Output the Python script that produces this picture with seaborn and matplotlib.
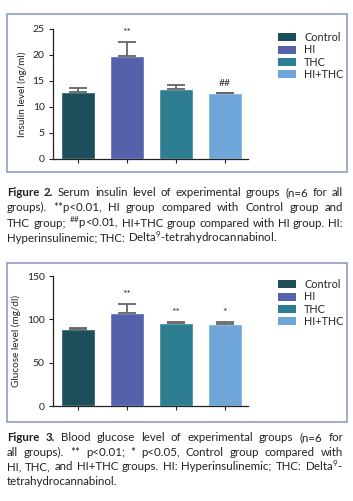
import numpy as np
import pandas as pd
import seaborn as sns
import matplotlib.pyplot as plt
from matplotlib.patches import Rectangle, Patch

sns.set_style('ticks')
plt.rcParams['font.family'] = ['Lato', 'DejaVu Sans']
plt.rcParams['mathtext.fontset'] = 'custom'
plt.rcParams['mathtext.rm'] = 'Lato'
plt.rcParams['mathtext.it'] = 'Lato'

groups = ['Control', 'HI', 'THC', 'HI+THC']
colors = ['#1c4f5b', '#5561ab', '#2e7e91', '#6fa6d9']

insulin = [12.8, 19.8, 13.4, 12.6]
insulin_err = [0.8, 2.7, 0.9, 0.1]
insulin_marks = ['', '**', '', '##']

glucose = [89, 107, 96, 94.5]
glucose_err = [1, 11, 0.7, 3]
glucose_marks = ['', '**', '**', '*']

cap2 = [
    'Figure 2. Serum insulin level of experimental groups (n=6 for all',
    'groups). **p<0.01, HI group compared with Control group and',
    'THC group; $^{\\#\\#}$p<0.01, HI+THC group compared with HI group. HI:',
    'Hyperinsulinemic; THC: Delta$^{9}$-tetrahydrocannabinol.',
]
cap3 = [
    'Figure 3. Blood glucose level of experimental groups (n=6 for',
    'all groups). ** p<0.01; * p<0.05, Control group compared with',
    'HI, THC, and HI+THC groups. HI: Hyperinsulinemic; THC: Delta$^{9}$-',
    'tetrahydrocannabinol.',
]

W, H = 353, 501
fig = plt.figure(figsize=(W / 100, H / 100), dpi=100)
fig.patch.set_facecolor('white')


def fx(px):
    return px / W


def fy(py):
    return 1 - py / H


def panel(top, vals, errs, marks, ylim, yticks, ylabel):
    ax = fig.add_axes([fx(53), fy(top + 130), fx(195), 130 / H])
    df = pd.DataFrame({'group': groups, 'value': vals})
    sns.barplot(data=df, x='group', y='value', hue='group', palette=colors,
                legend=False, errorbar=None, width=0.69, saturation=1, ax=ax)
    ax.errorbar(range(4), vals, yerr=[np.zeros(4), errs], fmt='none',
                ecolor='#666666', elinewidth=1.3, capsize=6.5, capthick=1.3)
    for i, m in enumerate(marks):
        if m:
            ax.annotate(m, (i, vals[i] + errs[i]), xytext=(0, 3.5),
                        textcoords='offset points', ha='center', va='bottom',
                        fontsize=7.5, color='#333333')
    ax.set_xlim(-0.51, 3.47)
    ax.set_ylim(*ylim)
    ax.set_yticks(yticks)
    ax.set_xticks(range(4))
    ax.set_xticklabels([])
    ax.set_xlabel('')
    ax.set_ylabel(ylabel, fontsize=7.2, color='#222222', labelpad=4)
    ax.tick_params(axis='y', labelsize=7.5, length=3, width=0.8, colors='#222222', pad=3)
    ax.tick_params(axis='x', length=3, width=0.8, colors='#222222')
    for s in ['left', 'bottom']:
        ax.spines[s].set_linewidth(0.9)
        ax.spines[s].set_color('#222222')
    sns.despine(ax=ax)
    handles = [Patch(facecolor=c, edgecolor='none') for c in colors]
    fig.legend(handles, groups, loc='upper left',
               bbox_to_anchor=(fx(276), fy(top + 1)), frameon=False,
               fontsize=7.8, handlelength=1.6, handleheight=0.75,
               handletextpad=0.8, labelspacing=0.12, borderaxespad=0,
               borderpad=0.2)
    return ax


def box(y0, y1):
    fig.patches.append(Rectangle((fx(7), fy(y1)), fx(340), (y1 - y0) / H,
                                 transform=fig.transFigure, fill=False,
                                 edgecolor='#8494c4', linewidth=1.1))


def caption(lines, y0, dy, size=8.3, x0=7, x1=343):
    r = fig.canvas.get_renderer()
    for i, line in enumerate(lines):
        y = fy(y0 + i * dy)
        words = line.split(' ')
        arts = []
        for j, w in enumerate(words):
            bold = i == 0 and j < 2
            t = fig.text(0, y, w, fontsize=size, color='#222222', va='baseline',
                         fontweight='bold' if bold else 'normal')
            arts.append(t)
        widths = [a.get_window_extent(r).width for a in arts]
        if i < len(lines) - 1 and len(words) > 1:
            gap = (x1 - x0 - sum(widths)) / (len(words) - 1)
        else:
            gap = size * 0.3
        x = x0
        for a, w in zip(arts, widths):
            a.set_x(fx(x))
            x += w + gap


box(14, 172)
panel(29, insulin, insulin_err, insulin_marks, (0, 25), [0, 5, 10, 15, 20, 25],
      'Insulin level (ng/ml)')
caption(cap2, 196, 15.3)

box(263, 422)
panel(276, glucose, glucose_err, glucose_marks, (0, 150), [0, 50, 100, 150],
      'Glucose level (mg/dl)')
caption(cap3, 441, 14.6)

fig.savefig('out.png', dpi=100)
